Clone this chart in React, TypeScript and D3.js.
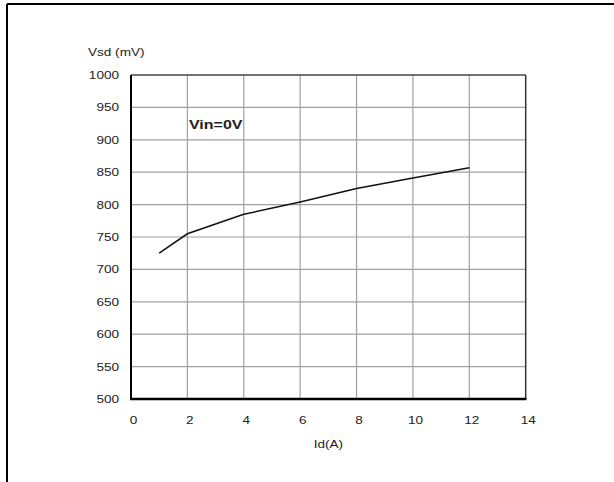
import React from "react";
import * as d3 from "d3";

const idValues = [1, 2, 4, 6, 8, 10, 12];
const vsdValues = [725, 755, 785, 804, 825, 841, 857];
const xTicks = [0, 2, 4, 6, 8, 10, 12, 14];
const yTicks = [500, 550, 600, 650, 700, 750, 800, 850, 900, 950, 1000];
const yTitle = "Vsd (mV)";
const xTitle = "Id(A)";
const note = "Vin=0V";

export default function App() {
  const W = 614, H = 482;
  const left = 131, right = 525.7, top = 75, bottom = 399;
  const x = d3.scaleLinear().domain([0, 14]).range([left, right]);
  const y = d3.scaleLinear().domain([500, 1000]).range([bottom, top]);
  const line = d3.line<number>().x((_, i) => x(idValues[i])).y((d) => y(d));
  const font = "'Liberation Sans', Arial, sans-serif";
  const sx = 1.18;
  const fs = 11.5;
  return (
    <svg width={W} height={H} style={{ position: "absolute", left: 0, top: 0, background: "#fff" }}>
      <rect x={0} y={0} width={W} height={H} fill="#fff" />
      {/* outer frame */}
      <line x1={7} y1={4} x2={W} y2={4} stroke="#000" strokeWidth={2} />
      <line x1={7} y1={4} x2={7} y2={H} stroke="#000" strokeWidth={2} />
      {/* grid */}
      {xTicks.slice(1, -1).map((t) => (
        <line key={"gx" + t} x1={x(t)} x2={x(t)} y1={top} y2={bottom} stroke="#a0a0a0" strokeWidth={1.2} />
      ))}
      {yTicks.slice(1, -1).map((t) => (
        <line key={"gy" + t} x1={left} x2={right} y1={y(t)} y2={y(t)} stroke="#a0a0a0" strokeWidth={1.2} />
      ))}
      {/* plot borders */}
      <line x1={left} x2={right} y1={top} y2={top} stroke="#444" strokeWidth={1.5} />
      <line x1={right} x2={right} y1={top} y2={bottom} stroke="#333" strokeWidth={1.5} />
      <line x1={left} x2={left} y1={top} y2={bottom + 1} stroke="#000" strokeWidth={2} />
      <line x1={left - 1} x2={right + 0.75} y1={bottom} y2={bottom} stroke="#000" strokeWidth={2.4} />
      {/* curve */}
      <path d={line(vsdValues) || ""} fill="none" stroke="#111" strokeWidth={1.5} />
      {/* y tick labels */}
      {yTicks.map((t) => (
        <text key={"yl" + t} transform={`translate(119,${y(t) + 4}) scale(${sx},1)`} textAnchor="end"
          fontFamily={font} fontSize={fs} fill="#222">{t}</text>
      ))}
      {/* x tick labels */}
      {xTicks.map((t) => (
        <text key={"xl" + t} transform={`translate(${x(t) + 2.5},${424}) scale(${sx},1)`} textAnchor="middle"
          fontFamily={font} fontSize={fs} fill="#222">{t}</text>
      ))}
      <text transform={`translate(88,56) scale(${sx},1)`} fontFamily={font} fontSize={fs} fill="#222">{yTitle}</text>
      <text transform={`translate(${(left + right) / 2},448) scale(${sx},1)`} textAnchor="middle" fontFamily={font} fontSize={fs} fill="#222">{xTitle}</text>
      <text transform={`translate(189,129) scale(1.25,1)`} fontFamily={font} fontSize={12.8} fontWeight="bold" fill="#222">{note}</text>
    </svg>
  );
}
